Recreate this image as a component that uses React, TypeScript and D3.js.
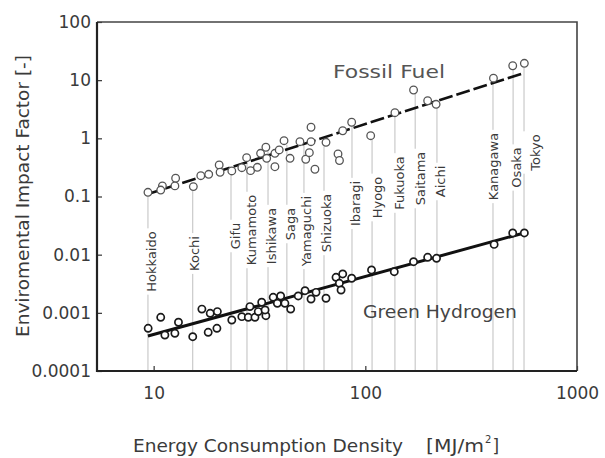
import React, { useRef, useEffect } from 'react';
import * as d3 from 'd3';

// Fossil fuel impact factor by prefecture (x: MJ/m2, y: -)
const fossilX = [9.4, 11.0, 10.8, 12.7, 12.6, 15.4, 16.7, 18.2, 20.4, 20.6, 23.4, 26.1, 27.5, 28.7, 30.9, 32.0, 33.9, 34.2, 37.4, 37.4, 39.2, 41.3, 44.1, 49.1, 52.3, 54.4, 55.4, 55.4, 57.8, 65.2, 74.3, 75.5, 78.2, 86.2, 106, 138, 169, 197, 216, 403, 497, 564];
const fossilY = [0.118, 0.152, 0.129, 0.206, 0.152, 0.148, 0.228, 0.241, 0.348, 0.261, 0.275, 0.313, 0.465, 0.278, 0.318, 0.553, 0.702, 0.454, 0.325, 0.553, 0.631, 0.91, 0.454, 0.875, 0.437, 0.566, 1.55, 0.875, 0.294, 0.855, 0.538, 0.416, 1.35, 1.89, 1.11, 2.76, 6.78, 4.43, 3.85, 10.8, 17.7, 19.5];

// Green hydrogen impact factor
const h2X = [9.42, 10.8, 11.3, 12.6, 13.1, 15.3, 16.9, 18.1, 18.5, 19.9, 20.0, 23.4, 26.1, 28.0, 28.5, 30.1, 31.2, 32.4, 33.9, 33.6, 36.7, 38.4, 39.8, 41.7, 44.4, 48.2, 51.9, 55.4, 58.5, 65.2, 72.7, 78.2, 75.4, 76.8, 86.2, 107, 137, 169, 197, 217, 406, 497, 564];
const h2Y = [0.000542, 0.000838, 0.000416, 0.000445, 0.000689, 0.000389, 0.00116, 0.000463, 0.000982, 0.000542, 0.00105, 0.000753, 0.000859, 0.000838, 0.00128, 0.000838, 0.00105, 0.00152, 0.000893, 0.00112, 0.00185, 0.00146, 0.00195, 0.00146, 0.00116, 0.00195, 0.0024, 0.00173, 0.00225, 0.00178, 0.00408, 0.00466, 0.00322, 0.00247, 0.00393, 0.00546, 0.00509, 0.00757, 0.00902, 0.00867, 0.015, 0.0236, 0.0236];

// regression lines (end points)
const fitX = [9.4, 562];
const fossilFitY = [0.110, 13.3];
const h2FitY = [0.0004, 0.0236];

// labelled prefectures
const prefNames = ['Hokkaido', 'Kochi', 'Gifu', 'Kumamoto', 'Ishikawa', 'Saga', 'Yamaguchi', 'Shizuoka', 'Ibaragi', 'Hyogo', 'Fukuoka', 'Saitama', 'Aichi', 'Kanagawa', 'Osaka', 'Tokyo'];
const prefX = [9.4, 15.3, 23.2, 27.6, 34.7, 42.6, 51.3, 63.8, 86.5, 107.6, 138, 172, 218, 401, 499, 562];
const prefFossil = [0.118, 0.148, 0.275, 0.465, 0.70, 0.91, 0.875, 0.855, 1.89, 1.11, 2.76, 6.78, 3.85, 10.8, 17.7, 19.5];

const yTicks = [0.0001, 0.001, 0.01, 0.1, 1, 10, 100];
const xTicks = [10, 100, 1000];

// label placement (px): offset from leader line, vertical centre
const labelDx = [3.5, 2, 4, 4, 3, 3, 2, 2, 3, 5, 4, 5, 3, 0, 3, 11];
const labelMid = [261.5, 253.5, 236, 230, 236, 224, 231, 223, 203.5, 197.5, 183, 178.5, 181.5, 166.5, 167.5, 152.5];

const W = 605, H = 458;
const M = { left: 97, right: 577, top: 22, bottom: 371 };
const FONT = "'DejaVu Sans', sans-serif";

export default function App() {
  const ref = useRef<SVGSVGElement>(null);

  useEffect(() => {
    const svg = d3.select(ref.current);
    svg.selectAll('*').remove();

    const x = d3.scaleLog().domain([5.4, 1000]).range([M.left, M.right]);
    const y = d3.scaleLog().domain([1e-4, 100]).range([M.bottom, M.top]);

    svg.append('rect').attr('width', W).attr('height', H).attr('fill', '#fff');

    // leader lines and prefecture labels
    const leaders = svg.append('g').attr('stroke', '#b8b8b8').attr('stroke-width', 0.9);
    const labels = svg.append('g').attr('font-family', FONT).attr('font-size', 13).attr('fill', '#3a3a3a');
    prefNames.forEach((name, i) => {
      const lx = x(prefX[i]);
      const cx = lx + labelDx[i];
      const cy = labelMid[i];
      const t = labels.append('text')
        .attr('transform', `translate(${cx},${cy}) rotate(-90)`)
        .attr('text-anchor', 'middle')
        .attr('dy', '0.36em')
        .text(name);
      const half = (t.node() as SVGTextElement).getComputedTextLength() / 2;
      const segs = [[y(prefFossil[i]) + 4, cy - half - 3], [cy + half + 3, M.bottom]];
      segs.forEach(([a, b]) => {
        if (b > a) leaders.append('line').attr('x1', lx).attr('x2', lx).attr('y1', a).attr('y2', b);
      });
    });

    // regression lines
    const line = d3.line<[number, number]>().x(d => x(d[0])).y(d => y(d[1]));
    svg.append('path')
      .datum(fitX.map((v, i) => [v, fossilFitY[i]] as [number, number]))
      .attr('d', line).attr('fill', 'none').attr('stroke', '#111')
      .attr('stroke-width', 2.6).attr('stroke-dasharray', '14,4');
    svg.append('path')
      .datum(fitX.map((v, i) => [v, h2FitY[i]] as [number, number]))
      .attr('d', line).attr('fill', 'none').attr('stroke', '#111').attr('stroke-width', 3);

    // points
    svg.append('g').selectAll('circle').data(fossilX).enter().append('circle')
      .attr('cx', d => x(d)).attr('cy', (d, i) => y(fossilY[i])).attr('r', 3.8)
      .attr('fill', '#fff').attr('stroke', '#555').attr('stroke-width', 1.3);
    svg.append('g').selectAll('circle').data(h2X).enter().append('circle')
      .attr('cx', d => x(d)).attr('cy', (d, i) => y(h2Y[i])).attr('r', 3.6)
      .attr('fill', '#fff').attr('stroke', '#1a1a1a').attr('stroke-width', 1.7);

    // axes
    const gy = svg.append('g').attr('transform', `translate(${M.left},0)`)
      .call(d3.axisLeft(y).tickValues(yTicks).tickFormat(d => String(d)).tickSizeInner(-5).tickSizeOuter(0).tickPadding(6));
    gy.select('.domain').remove();
    gy.selectAll('line').attr('stroke', '#333').attr('stroke-width', 1.2);
    gy.selectAll('text').attr('font-family', FONT).attr('font-size', 17).attr('fill', '#3a3a3a');

    const gx = svg.append('g').attr('transform', `translate(0,${M.bottom})`)
      .call(d3.axisBottom(x).tickValues(xTicks).tickFormat(d => String(d)).tickSizeInner(-5).tickSizeOuter(0).tickPadding(16));
    gx.select('.domain').remove();
    gx.selectAll('line').attr('stroke', '#333').attr('stroke-width', 1.2);
    gx.selectAll('text').attr('font-family', FONT).attr('font-size', 17).attr('fill', '#3a3a3a');

    // frame
    const frame = svg.append('g').attr('fill', 'none');
    frame.append('path').attr('d', `M${M.left},${M.top}H${M.right}V${M.bottom}`).attr('stroke', '#444').attr('stroke-width', 1.6);
    frame.append('path').attr('d', `M${M.left},${M.top}V${M.bottom}H${M.right}`).attr('stroke', '#222').attr('stroke-width', 2.2);

    // annotations
    const txt = svg.append('g').attr('font-family', FONT).attr('fill', '#3a3a3a');
    txt.append('text').attr('x', 333).attr('y', 78).attr('font-size', 18).attr('fill', '#555')
      .attr('textLength', 112).attr('lengthAdjust', 'spacingAndGlyphs').text('Fossil Fuel');
    txt.append('text').attr('x', 363).attr('y', 318).attr('font-size', 18).attr('fill', '#444')
      .attr('textLength', 154).attr('lengthAdjust', 'spacingAndGlyphs').text('Green Hydrogen');

    txt.append('text').attr('transform', 'translate(29,196) rotate(-90)').attr('text-anchor', 'middle')
      .attr('font-size', 17).attr('textLength', 282).attr('lengthAdjust', 'spacingAndGlyphs')
      .text('Enviromental Impact Factor [-]');

    txt.append('text').attr('x', 133).attr('y', 452).attr('font-size', 17)
      .attr('textLength', 270).attr('lengthAdjust', 'spacingAndGlyphs').text('Energy Consumption Density');
    txt.append('text').attr('x', 426).attr('y', 452).attr('font-size', 17)
      .attr('textLength', 58).attr('lengthAdjust', 'spacingAndGlyphs').text('[MJ/m');
    txt.append('text').attr('x', 485).attr('y', 443).attr('font-size', 10).text('2');
    txt.append('text').attr('x', 492.5).attr('y', 452).attr('font-size', 17).text(']');
  }, []);

  return <svg ref={ref} width={W} height={H} style={{ position: 'absolute', left: 0, top: 0 }} />;
}
